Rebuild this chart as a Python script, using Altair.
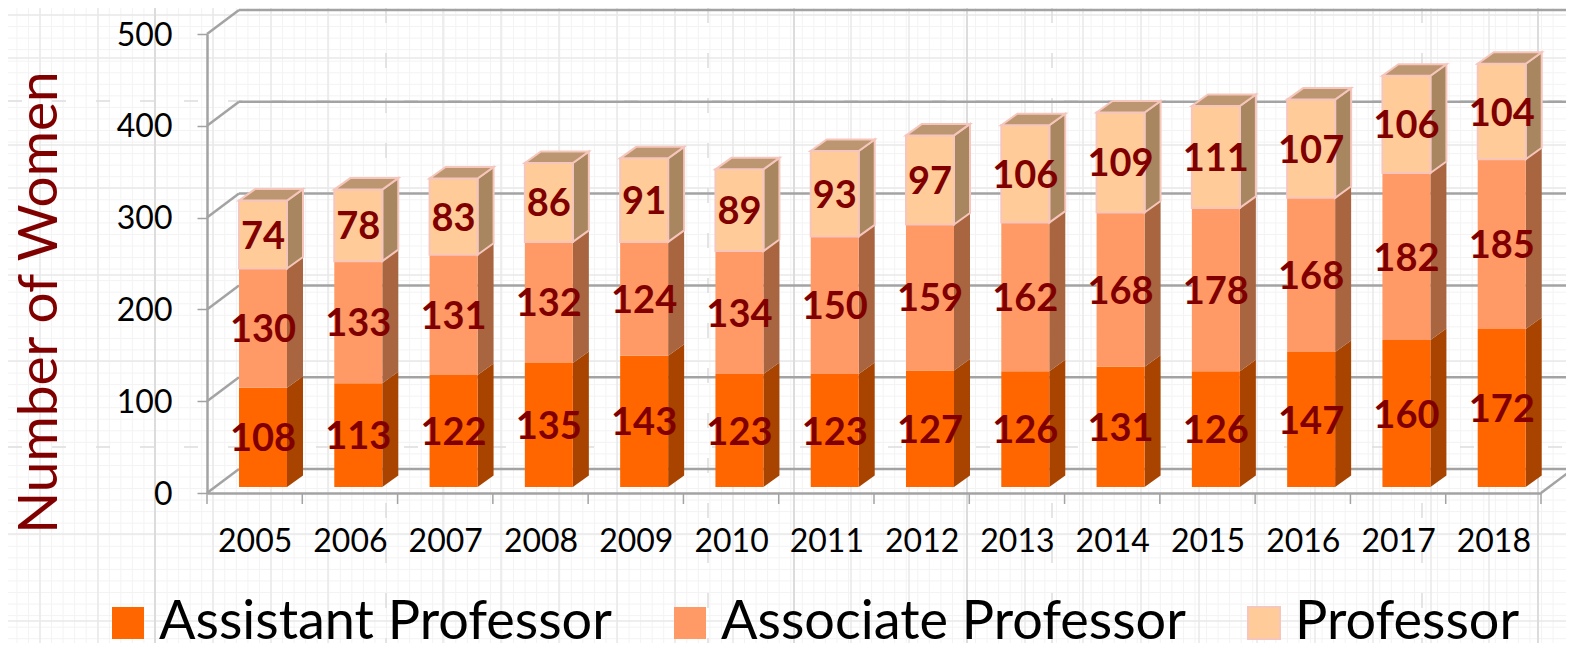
import altair as alt
import pandas as pd

YEARS = [2005, 2006, 2007, 2008, 2009, 2010, 2011, 2012, 2013, 2014, 2015, 2016, 2017, 2018]
ASSISTANT = [108, 113, 122, 135, 143, 123, 123, 127, 126, 131, 126, 147, 160, 172]
ASSOCIATE = [130, 133, 131, 132, 124, 134, 150, 159, 162, 168, 178, 168, 182, 185]
PROFESSOR = [74, 78, 83, 86, 91, 89, 93, 97, 106, 109, 111, 107, 106, 104]
SERIES = ["Assistant Professor", "Associate Professor", "Professor"]
FRONT = ["#FF6600", "#FF9966", "#FFCC99"]
SIDE = ["#A84300", "#A8653F", "#A8865F"]
EDGE = ["transparent", "transparent", "#F6C6BC"]
TOP = "#BC9670"
OUTLINE = "#F6C6BC"
AXIS = "#A3A3A3"
DARK = "#800000"
FONT = "Lato"
Y_TICKS = [0, 100, 200, 300, 400, 500]

# faint graph-paper backdrop seen behind the chart (image pixels)
PAPER_V_MAJOR = [40, 98, 213, 271, 328, 443, 501, 559, 617, 675, 733, 851, 909, 1025, 1083, 1141, 1199, 1257, 1315, 1373, 1431, 1489]
PAPER_V_STRONG = [155, 794, 967, 1538]
PAPER_V_DASH = [386, 708, 1052, 1422]
PAPER_H_MAJOR = [15, 58, 145, 188, 275, 361, 534, 621]
PAPER_H_DASH = [101, 447]
PAPER_MINOR_STEP = 11.55

W, H = 1334, 459
px_x = 14 / W
px_y = 500 / H
WALL_DX, WALL_DY = 32 * px_x, 24 * px_y
BAR_L, BAR_W = 32 * px_x, 48 * px_x
SIDE_DX, SIDE_DY = 16 * px_x, 11.5 * px_y
FLOOR = 6 * px_y
x_axis_vals = [i + 0.5 for i in range(len(YEARS))]

x_scale = alt.Scale(domain=[0, 14], nice=False, zero=False)
y_scale = alt.Scale(domain=[0, 500], nice=False)
xs = alt.X("x:Q", scale=x_scale, axis=None)
ys = alt.Y("y:Q", scale=y_scale, axis=None)
x_with_axis = alt.X(
    "x:Q",
    scale=x_scale,
    axis=alt.Axis(
        values=x_axis_vals, title=None, grid=False, zindex=1,
        labelExpr=f"{YEARS[0]} + floor(datum.value)",
        domainColor=AXIS, domainWidth=2.5, tickSize=0,
        labelFont=FONT, labelFontSize=32, labelColor="black", labelPadding=33,
        labelOverlap=False, labelFlush=False,
    ),
)
y_with_axis = alt.Y(
    "y:Q",
    scale=y_scale,
    axis=alt.Axis(
        values=Y_TICKS, title="Number of Women", grid=False, zindex=1,
        domainColor=AXIS, domainWidth=2.5, tickColor=AXIS, tickSize=10, tickWidth=1.5,
        labelFont=FONT, labelFontSize=32, labelColor="black", labelPadding=25, labelOffset=1,
        titleFont=FONT, titleFontSize=55, titleFontWeight="normal", titleColor=DARK,
        titleAnchor="middle", titleX=-168, titleY=268, titleAngle=270, titleBaseline="middle",
    ),
)

front, side, top, labels = [], [], [], []
for i, year in enumerate(YEARS):
    base = 0
    for s, vals in zip(SERIES, [ASSISTANT, ASSOCIATE, PROFESSOR]):
        v = vals[i]
        x0, x1 = i + BAR_L, i + BAR_L + BAR_W
        y0, y1 = base + FLOOR, base + v + FLOOR
        k = f"{year}-{s}"
        front.append(dict(x=x0, x2=x1, y=y0, y2=y1, s=s, k=k))
        side.append(dict(x=x1, y=y0, y2=y1, s=s, k=k))
        side.append(dict(x=x1 + SIDE_DX, y=y0 + SIDE_DY, y2=y1 + SIDE_DY, s=s, k=k))
        labels.append(dict(x=(x0 + x1) / 2, y=(y0 + y1) / 2, t=str(v)))
        base += v
    top.append(dict(y=y1, x=x0, x2=x1, k=str(year)))
    top.append(dict(y=y1 + SIDE_DY, x=x0 + SIDE_DX, x2=x1 + SIDE_DX, k=str(year)))

front, side, top, labels = map(pd.DataFrame, (front, side, top, labels))


def to_x(px):
    return (px - 207) * px_x


def to_y(py):
    return (493 - py) * px_y


def paper_v(pxs, color, **kw):
    return alt.Chart(pd.DataFrame(dict(x=[to_x(p) for p in pxs]))).mark_rule(color=color, **kw).encode(
        x=xs, y=alt.value(-26), y2=alt.value(617)
    )


def paper_h(pys, color, **kw):
    return alt.Chart(pd.DataFrame(dict(y=[to_y(p) for p in pys]))).mark_rule(color=color, **kw).encode(
        y=ys, x=alt.value(-199), x2=alt.value(1359)
    )


minor_v = [40 + n * PAPER_MINOR_STEP for n in range(-2, 132)]
minor_h = [15 + n * PAPER_MINOR_STEP for n in range(0, 55)]
paper = [
    paper_v(minor_v, "#F3F3F3", strokeWidth=1),
    paper_h(minor_h, "#F3F3F3", strokeWidth=1),
    paper_v(PAPER_V_MAJOR, "#E8E8E8", strokeWidth=1.5),
    paper_h(PAPER_H_MAJOR, "#E8E8E8", strokeWidth=1.5),
    paper_v(PAPER_V_STRONG, "#DCDCDC", strokeWidth=2),
    paper_v(PAPER_V_DASH, "#DDDDDD", strokeWidth=1.5, strokeDash=[15, 30]),
    paper_h(PAPER_H_DASH, "#DDDDDD", strokeWidth=1.5, strokeDash=[14, 30]),
]

# walls
back = pd.DataFrame([dict(x=WALL_DX, x2=14 + WALL_DX, y=t + WALL_DY) for t in Y_TICKS])
back_l = alt.Chart(back).mark_rule(color=AXIS, strokeWidth=2.5).encode(x=x_with_axis, x2="x2:Q", y=y_with_axis)
depth = pd.DataFrame(
    [r for t in Y_TICKS for r in (dict(x=0, y=t, k=t), dict(x=WALL_DX, y=t + WALL_DY, k=t))]
    + [dict(x=14, y=0, k="end"), dict(x=14 + WALL_DX, y=WALL_DY, k="end")]
)
depth_l = alt.Chart(depth).mark_line(color=AXIS, strokeWidth=2.5).encode(x=xs, y=ys, detail="k:N")
x_ticks = pd.DataFrame(dict(x=list(range(15))))
tick_l = alt.Chart(x_ticks).mark_rule(color=AXIS, strokeWidth=1.5).encode(
    x=xs, y=alt.value(H), y2=alt.value(H + 11)
)

legend = alt.Legend(
    title=None,
    orient="none",
    direction="horizontal",
    columns=3,
    legendX=-106,
    legendY=562,
    symbolType="square",
    symbolSize=1024,
    symbolStrokeWidth=2,
    labelFont=FONT,
    labelFontSize=54,
    labelColor="black",
    labelLimit=700,
    labelOffset=4,
    columnPadding=51,
    gridAlign="none",
)
side_l = (
    alt.Chart(side)
    .mark_area(line=False)
    .encode(
        x=xs, y=ys, y2="y2:Q", detail="k:N",
        fill=alt.Fill("s:N", scale=alt.Scale(domain=SERIES, range=SIDE), legend=None),
    )
)
front_l = alt.Chart(front).mark_rect(strokeWidth=2).encode(
    x=xs, x2="x2:Q", y=ys, y2="y2:Q",
    color=alt.Color("s:N", scale=alt.Scale(domain=SERIES, range=FRONT), legend=legend),
    stroke=alt.Stroke("s:N", scale=alt.Scale(domain=SERIES, range=EDGE), legend=legend),
)
prof_side = side[side.s == "Professor"]
prof_side_l = alt.Chart(prof_side).mark_area(fillOpacity=0, stroke=OUTLINE, strokeWidth=2).encode(
    x=xs, y=ys, y2="y2:Q", detail="k:N"
)
top_l = alt.Chart(top).mark_area(orient="horizontal", fill=TOP, stroke=OUTLINE, strokeWidth=2).encode(
    y=ys, x=xs, x2="x2:Q", detail="k:N"
)
text_l = alt.Chart(labels).mark_text(
    font=FONT, fontWeight="bold", fontSize=38, color=DARK, baseline="middle", align="center", dy=3
).encode(x=xs, y=ys, text="t:N")

chart = (
    alt.layer(*paper, back_l, depth_l, tick_l, side_l, front_l, prof_side_l, top_l, text_l)
    .resolve_scale(fill="independent")
    .resolve_axis(x="independent", y="independent")
    .properties(
        width=W,
        height=H,
        autosize=alt.AutoSizeParams(type="none"),
        padding={"left": 199, "top": 26, "right": 25, "bottom": 150},
    )
    .configure_view(stroke=None)
)
chart.save("out.html", embed_options={"renderer": "svg", "actions": False})
